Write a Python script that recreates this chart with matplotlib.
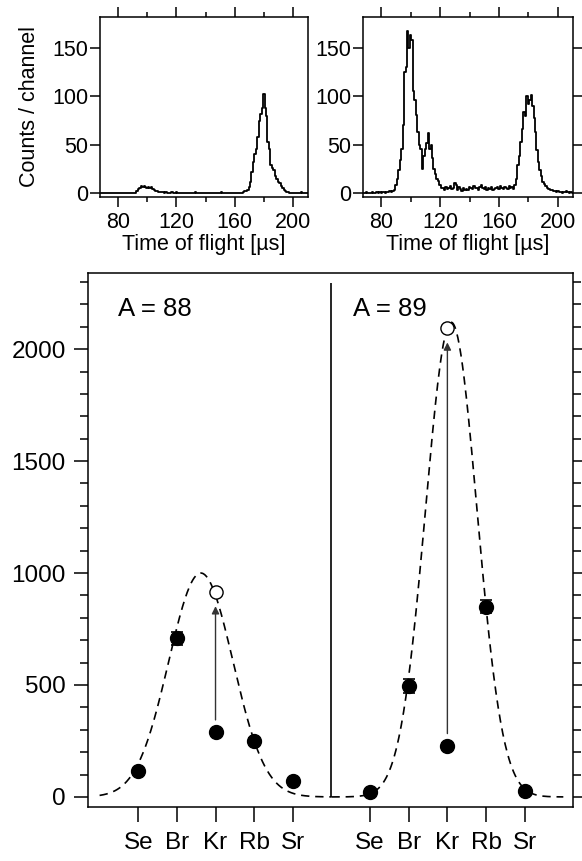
"""Isobaric yields for A = 88 and A = 89 with the TOF spectra that go with them."""

import matplotlib.pyplot as plt
import numpy as np

plt.rcParams['font.family'] = ['Liberation Sans', 'DejaVu Sans']

# time-of-flight spectra, 1 us channels from 68 to 210 us
TOF_START, TOF_STOP = 68, 210
counts_a88 = [
    0, 0, 0, 0, 0, 0, 0, 0, 0, 0,
    0, 0, 0, 0, 0, 0, 0, 0, 0, 0,
    0, 0, 0, 0, 0, 2, 4, 5, 7, 6,
    7, 6, 5, 6, 5, 6, 4, 3, 2, 2,
    1, 1, 1, 1, 0, 1, 0, 0, 0, 1,
    0, 0, 1, 0, 0, 0, 0, 0, 0, 0,
    0, 0, 0, 0, 0, 1, 0, 0, 0, 0,
    0, 0, 0, 0, 0, 0, 0, 0, 0, 0,
    0, 0, 0, 1, 0, 0, 0, 0, 0, 0,
    0, 0, 0, 0, 0, 0, 0, 0, 1, 2,
    2, 3, 6, 12, 22, 32, 40, 46, 58, 74,
    82, 88, 102, 88, 80, 53, 46, 29, 26, 24,
    18, 15, 12, 10, 7, 5, 3, 2, 1, 1,
    0, 0, 0, 0, 0, 0, 0, 0, 1, 0,
    0, 0, 0,
]
counts_a89 = [
    0, 0, 1, 0, 0, 0, 1, 0, 0, 1,
    0, 1, 0, 1, 1, 0, 1, 1, 2, 1,
    2, 3, 8, 15, 24, 34, 46, 70, 125, 130,
    167, 150, 163, 158, 105, 96, 81, 63, 50, 46,
    25, 38, 46, 52, 62, 46, 50, 36, 25, 20,
    15, 13, 8, 5, 5, 3, 6, 4, 5, 7,
    4, 5, 10, 8, 3, 6, 4, 2, 5, 3,
    4, 3, 6, 5, 4, 7, 5, 5, 3, 6,
    8, 5, 4, 6, 3, 5, 4, 6, 3, 4,
    5, 6, 4, 7, 5, 4, 6, 5, 4, 7,
    5, 6, 4, 8, 15, 29, 38, 53, 66, 84,
    80, 100, 92, 96, 101, 90, 78, 63, 45, 32,
    24, 18, 12, 9, 7, 5, 4, 3, 3, 2,
    2, 1, 2, 1, 1, 0, 1, 1, 2, 1,
    0, 1, 0,
]

# isobar yields
elements = ["Se", "Br", "Kr", "Rb", "Sr"]
yield_a88 = [117, 708, 289, 251, 70]
err_a88 = [10, 30, 12, 12, 8]
yield_a89 = [24, 496, 228, 850, 28]
err_a89 = [8, 30, 12, 30, 8]
kr_corrected = [917, 2095]          # open circles (A=88, A=89)
# gaussian fits: amplitude, centre (in element index, Se = 0), sigma
fit_amp = [1000, 2120]
fit_center = [1.62, 2.10]
fit_sigma = [0.83, 0.665]


def spectrum(ax, counts):
    tof = np.arange(TOF_START, TOF_STOP + 1)
    ax.step(tof, counts, where="mid", color="black", lw=1.3)
    ax.set_xlim(67.6, 210.3)
    ax.set_ylim(-4, 182)
    ax.set_xticks([80, 120, 160, 200])
    ax.set_xticks([100, 140, 180], minor=True)
    ax.set_yticks([0, 50, 100, 150])
    ax.tick_params(which="both", direction="out", width=1.1, labelsize=15.5,
                   top=True)
    ax.tick_params(axis="y", pad=1)
    ax.tick_params(axis="x", pad=3)
    ax.tick_params(which="major", length=7.5)
    ax.tick_params(which="minor", length=3.5)
    ax.set_xlabel("Time of flight [\u00b5s]", fontsize=15.5, labelpad=1)
    for s in ax.spines.values():
        s.set_linewidth(1.1)


fig = plt.figure(figsize=(5.82, 8.61), dpi=100)
ax_l = fig.add_axes([0.1718, 0.7712, 0.3574, 0.2091])
ax_r = fig.add_axes([0.6237, 0.7712, 0.3608, 0.2091])
spectrum(ax_l, counts_a88)
spectrum(ax_r, counts_a89)
ax_r.tick_params(axis="y", which="both", right=True)
ax_l.set_ylabel("Counts / channel", fontsize=15.5, labelpad=9)

ax = fig.add_axes([0.1512, 0.0627, 0.8333, 0.6202])
offsets = [1, 7]
for k, (ys, es) in enumerate([(yield_a88, err_a88), (yield_a89, err_a89)]):
    x = np.arange(len(elements)) + offsets[k]
    # gaussian fit curve over its half of the panel
    xf = np.linspace(offsets[k] - 1, offsets[k] + 5, 300)
    yf = fit_amp[k] * np.exp(-0.5 * ((xf - offsets[k] - fit_center[k]) / fit_sigma[k]) ** 2)
    ax.plot(xf, yf, color="black", lw=1.2, ls=(0, (5, 3.5)))
    ax.errorbar(x, ys, yerr=es, fmt="o", color="black", ms=10, capsize=4.5,
                elinewidth=1.2, capthick=1.2, zorder=3)
    kr_x = x[elements.index("Kr")]
    ax.plot(kr_x, kr_corrected[k], "o", ms=9.5, mfc="white", mec="black",
            mew=1.0, zorder=4)
    ax.annotate("", xy=(kr_x, kr_corrected[k] - 65),
                xytext=(kr_x, ys[elements.index("Kr")] + 55),
                arrowprops=dict(arrowstyle="-|>", color="#333333", lw=1.0,
                                mutation_scale=11, shrinkA=0, shrinkB=0))

ax.vlines(6, 0, 2295, color="black", lw=1.2)
ax.text(0.48, 2180, "A = 88", fontsize=18.5, va="center")
ax.text(6.56, 2180, "A = 89", fontsize=18.5, va="center")

ax.set_xlim(-0.3, 12.25)
ax.set_ylim(-45, 2340)
ax.set_xticks(list(np.arange(len(elements)) + 1) + list(np.arange(len(elements)) + 7))
ax.set_xticklabels(elements * 2)
ax.set_yticks([0, 500, 1000, 1500, 2000])
ax.set_yticks(np.arange(0, 2301, 100), minor=True)
ax.tick_params(axis="x", length=11, width=1.1, direction="out", labelsize=17.5, pad=7)
ax.tick_params(axis="y", which="both", direction="out", right=True, width=1.1,
               labelsize=17.5, pad=6)
ax.tick_params(axis="y", which="major", length=10)
ax.tick_params(axis="y", which="minor", length=6)
for s in ax.spines.values():
    s.set_linewidth(1.1)

plt.savefig("out.png", dpi=100)
